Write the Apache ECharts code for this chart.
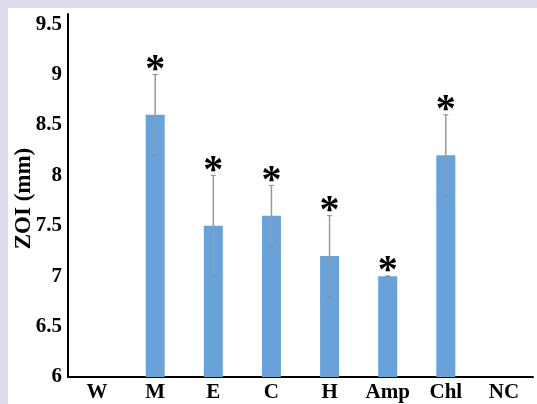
<!DOCTYPE html>
<html><head><meta charset="utf-8">
<script src="https://cdn.jsdelivr.net/npm/echarts@6/dist/echarts.min.js"></script>
<style>html,body{margin:0;padding:0;background:#dcdbec;}#wrap{position:absolute;left:8px;top:8px;right:0;bottom:0;background:#fff;}#c{position:absolute;left:-8px;top:-8px;width:537px;height:404px;}</style>
</head><body><div id="wrap"><div id="c"></div></div>
<script>
var categories = ['W', 'M', 'E', 'C', 'H', 'Amp', 'Chl', 'NC'];
var values = [null, 8.6, 7.5, 7.6, 7.2, 7.0, 8.2, null];
var errors = [null, 0.4, 0.5, 0.3, 0.4, 0.0, 0.4, null];
var yTicks = [6, 6.5, 7, 7.5, 8, 8.5, 9, 9.5];

var chart = echarts.init(document.getElementById('c'));
var font = '"Liberation Serif", "Times New Roman", serif';
var errData = values.map(function (v, i) { return v == null ? null : [i, v, errors[i]]; }).filter(function (d) { return d; });
chart.setOption({
  animation: false,
  grid: { left: 68, right: 4, top: 14, bottom: 27, containLabel: false, outerBoundsMode: 'none' },
  xAxis: {
    type: 'category', data: categories,
    axisLine: { lineStyle: { color: '#000', width: 2 } },
    axisTick: { show: false },
    axisLabel: { color: '#000', fontFamily: font, fontWeight: 'bold', fontSize: 21, margin: 5, interval: 0, hideOverlap: false }
  },
  yAxis: {
    type: 'value', min: 6, max: 9.6, interval: 0.5,
    name: 'ZOI (mm)', nameLocation: 'middle', nameGap: 32,
    nameMoveOverlap: false,
    nameTextStyle: { color: '#000', fontFamily: font, fontWeight: 'bold', fontSize: 23, padding: [0, 6, 0, 0] },
    axisLine: { show: true, lineStyle: { color: '#000', width: 2 } },
    axisTick: { show: false },
    splitLine: { show: false },
    axisLabel: {
      color: '#000', fontFamily: font, fontWeight: 'bold', fontSize: 21, margin: 6, padding: [0, 0, 4, 0],
      formatter: function (v) { return yTicks.indexOf(+v.toFixed(2)) >= 0 ? String(+v.toFixed(2)) : ''; }
    }
  },
  series: [{
    type: 'bar', data: values, barWidth: 19,
    itemStyle: { color: '#67a3da' }
  }, {
    type: 'custom', data: errData, z: 5,
    renderItem: function (params, api) {
      var i = api.value(0), v = api.value(1), e = api.value(2);
      var top = api.coord([i, v + e]);
      var bot = api.coord([i, v - e]);
      var x = top[0];
      var children = [
        { type: 'line', shape: { x1: x, y1: top[1], x2: x, y2: bot[1] }, style: { stroke: '#9a9a9a', lineWidth: 1.5 } },
        { type: 'line', shape: { x1: x - 2.5, y1: top[1], x2: x + 2.5, y2: top[1] }, style: { stroke: '#888', lineWidth: 1 } },
        { type: 'line', shape: { x1: x - 2.5, y1: bot[1], x2: x + 2.5, y2: bot[1] }, style: { stroke: '#888', lineWidth: 1 } },
        { type: 'text', x: x, y: top[1] + 16, style: { text: '*', fill: '#000', font: 'bold 40px ' + font, align: 'center', verticalAlign: 'bottom' } }
      ];
      return { type: 'group', children: children };
    }
  }]
});
</script></body></html>
